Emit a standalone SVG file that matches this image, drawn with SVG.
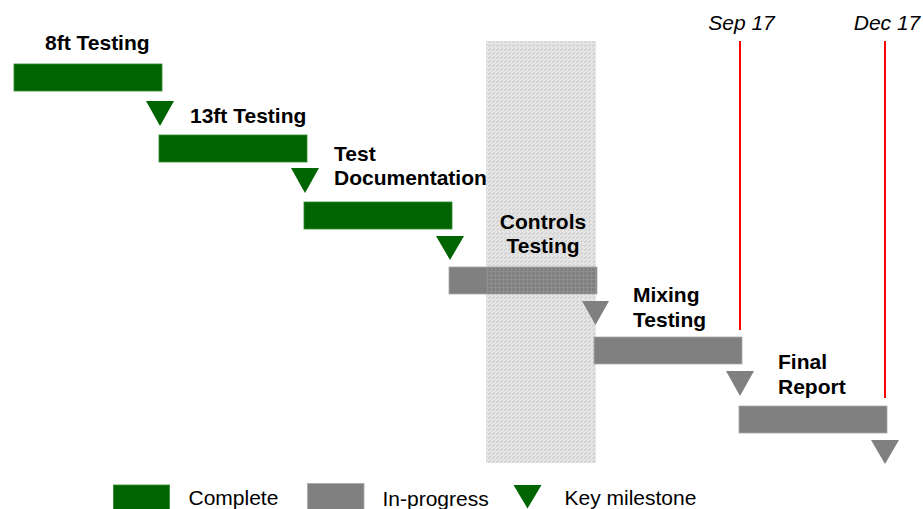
<svg xmlns="http://www.w3.org/2000/svg" width="923" height="509" viewBox="0 0 923 509">
<defs>
<pattern id="dots" width="4" height="4" patternUnits="userSpaceOnUse">
<rect width="4" height="4" fill="#d6d6d6"/>
<rect x="0" y="0" width="1" height="1" fill="#ececec"/>
<rect x="2" y="2" width="1" height="1" fill="#ececec"/>
<rect x="0" y="3" width="4" height="1" fill="#e4e4e4"/>
<rect x="3" y="0" width="1" height="4" fill="#e4e4e4"/>
</pattern>
<pattern id="dots2" width="4" height="4" patternUnits="userSpaceOnUse">
<rect x="0" y="3" width="4" height="1" fill="#9a9a9a"/>
<rect x="3" y="0" width="1" height="4" fill="#9a9a9a"/>
</pattern>
<style>
.done{fill:#006400;stroke:#2e8b2e;stroke-width:0.8}
.prog{fill:#808080;stroke:#a8a8a8;stroke-width:0.8}
.mg{fill:#006400}
.mp{fill:#808080}
.lbl{font-family:"Liberation Sans",Arial,sans-serif;font-weight:bold;font-size:21px;fill:#000}
.date{font-family:"Liberation Sans",Arial,sans-serif;font-style:italic;font-size:21px;fill:#000}
.leg{font-family:"Liberation Sans",Arial,sans-serif;font-size:21px;fill:#000}
.red{stroke:#ff0000;stroke-width:2}
</style>
</defs>
<rect id="band" x="486" y="41" width="110" height="422" fill="url(#dots)"/>
<g id="connectors">
<line class="red" x1="740" y1="41" x2="740" y2="330"/>
<line class="red" x1="885" y1="41" x2="885" y2="398"/>
</g>
<text class="date" x="741.5" y="30" text-anchor="middle">Sep 17</text>
<text class="date" x="887" y="29.5" text-anchor="middle">Dec 17</text>
<g id="task1">
<rect class="done" x="14" y="64" width="148" height="27"/>
<text class="lbl" x="45" y="49.5">8ft Testing</text>
<polygon class="mg" points="146,101 174,101 160,126"/>
</g>
<g id="task2">
<rect class="done" x="159" y="135" width="148" height="27"/>
<text class="lbl" x="190" y="122.5">13ft Testing</text>
<polygon class="mg" points="291,168 319,168 305,193"/>
</g>
<g id="task3">
<rect class="done" x="304" y="202" width="148" height="27"/>
<text class="lbl" x="334"><tspan x="334" y="161">Test</tspan><tspan x="334" y="184.5">Documentation</tspan></text>
<polygon class="mg" points="436,236 464,236 450,260"/>
</g>
<g id="task4">
<rect class="prog" x="449" y="267" width="148" height="27"/>
<rect x="486" y="267.5" width="110" height="26.5" fill="url(#dots2)" opacity="0.6"/>
<text class="lbl" text-anchor="middle"><tspan x="543" y="229">Controls</tspan><tspan x="543" y="252.5">Testing</tspan></text>
<polygon class="mp" points="582,301 609,301 595.5,325"/>
</g>
<g id="task5">
<rect class="prog" x="594" y="337" width="148" height="27"/>
<text class="lbl"><tspan x="633" y="301.5">Mixing</tspan><tspan x="633" y="326.5">Testing</tspan></text>
<polygon class="mp" points="726,371 754,371 740,396"/>
</g>
<g id="task6">
<rect class="prog" x="739" y="406" width="148" height="27"/>
<text class="lbl"><tspan x="778" y="368.5">Final</tspan><tspan x="778" y="393.5">Report</tspan></text>
<polygon class="mp" points="871,440 899,440 885,464"/>
</g>
<g id="legend">
<rect class="done" x="113.5" y="485" width="56" height="26"/>
<text class="leg" x="188.5" y="505">Complete</text>
<rect class="prog" x="307.5" y="483.5" width="56.5" height="28"/>
<text class="leg" x="382.5" y="506">In-progress</text>
<polygon class="mg" points="513.5,485 541.5,485 527.5,508.5"/>
<text class="leg" x="564.5" y="505">Key milestone</text>
</g>
</svg>
